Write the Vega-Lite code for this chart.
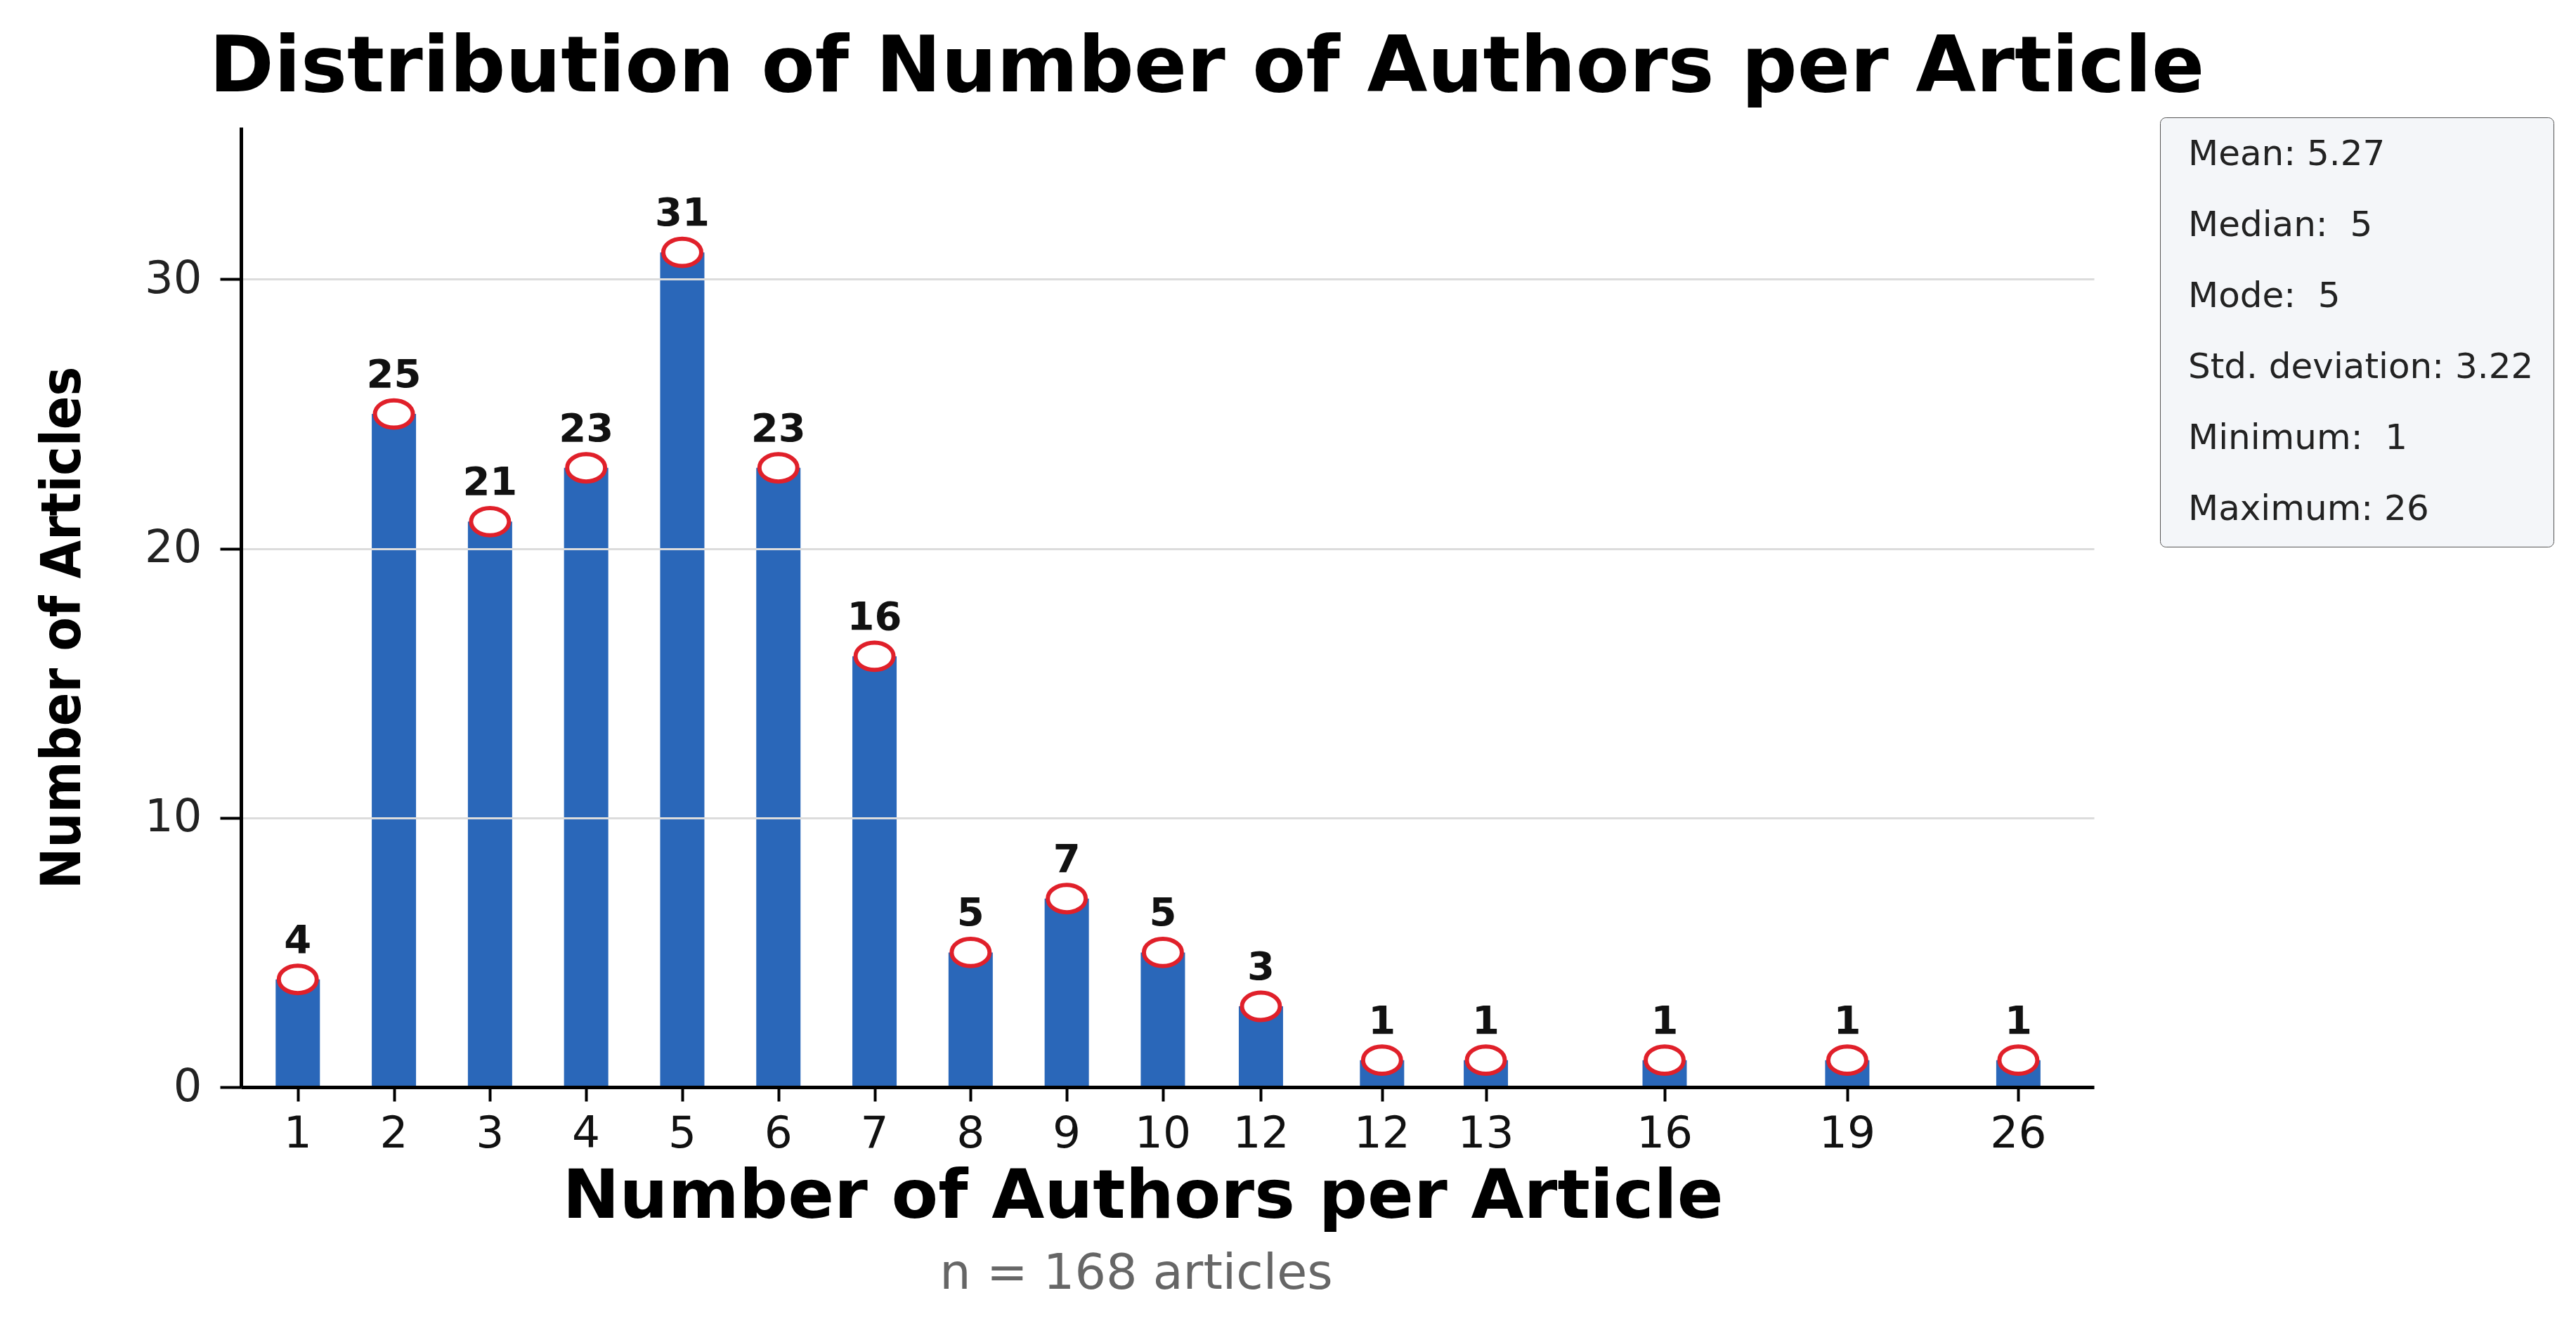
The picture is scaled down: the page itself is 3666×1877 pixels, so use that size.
{
  "$schema": "https://vega.github.io/schema/vega-lite/v6.json",
  "background": "white",
  "autosize": {"type": "pad"},
  "padding": {"left": 51, "top": 41, "right": 60, "bottom": 17},
  "datasets": {
    "counts": [
      {"label": "1", "slot": 1, "articles": 4},
      {"label": "2", "slot": 2, "articles": 25},
      {"label": "3", "slot": 3, "articles": 21},
      {"label": "4", "slot": 4, "articles": 23},
      {"label": "5", "slot": 5, "articles": 31},
      {"label": "6", "slot": 6, "articles": 23},
      {"label": "7", "slot": 7, "articles": 16},
      {"label": "8", "slot": 8, "articles": 5},
      {"label": "9", "slot": 9, "articles": 7},
      {"label": "10", "slot": 10, "articles": 5},
      {"label": "12", "slot": 11.02, "articles": 3},
      {"label": "12", "slot": 12.28, "articles": 1},
      {"label": "13", "slot": 13.36, "articles": 1},
      {"label": "16", "slot": 15.22, "articles": 1},
      {"label": "19", "slot": 17.12, "articles": 1},
      {"label": "26", "slot": 18.9, "articles": 1}
    ],
    "stats": [
      {"stat": "Mean: 5.27"},
      {"stat": "Median: \u00a05"},
      {"stat": "Mode: \u00a05"},
      {"stat": "Std. deviation: 3.22"},
      {"stat": "Minimum: \u00a01"},
      {"stat": "Maximum: 26"}
    ]
  },
  "title": {
    "text": "n = 168 articles",
    "orient": "bottom",
    "anchor": "middle",
    "font": "DejaVu Sans",
    "fontSize": 70,
    "fontWeight": "normal",
    "color": "#666666",
    "offset": 28,
    "dx": -226
  },
  "config": {
    "view": {"stroke": null},
    "font": "DejaVu Sans"
  },
  "vconcat": [
    {
      "width": 2637,
      "height": 1366,
      "title": {
        "text": "Distribution of Number of Authors per Article",
        "anchor": "middle",
        "font": "DejaVu Sans",
        "fontSize": 111,
        "fontWeight": "bold",
        "color": "#000000",
        "offset": 28,
        "dx": 56
      },
      "layer": [
        {
          "data": {"name": "counts"},
          "mark": {"type": "bar", "size": 63, "color": "#2a67b9"},
          "encoding": {
            "x": {
              "field": "slot",
              "type": "quantitative",
              "scale": {"domain": [0.446, 19.65], "nice": false, "zero": false},
              "axis": {
                "values": [1, 2, 3, 4, 5, 6, 7, 8, 9, 10, 11.02, 12.28, 13.36, 15.22, 17.12, 18.9],
                "labels": false,
                "grid": false,
                "domainColor": "#000000",
                "domainWidth": 5,
                "tickColor": "#000000",
                "tickWidth": 4,
                "tickSize": 20,
                "zindex": 1,
                "title": "Number of Authors per Article",
                "titleFont": "DejaVu Sans",
                "titleFontSize": 97,
                "titleFontWeight": "bold",
                "titleColor": "#000000",
                "titlePadding": 86,
                "titleX": 1283
              }
            },
            "y": {
              "field": "articles",
              "type": "quantitative",
              "scale": {"domain": [0, 35.65], "nice": false},
              "axis": {
                "values": [0, 10, 20, 30],
                "grid": true,
                "gridColor": "#dcdcdc",
                "gridWidth": 3,
                "domainColor": "#000000",
                "domainWidth": 5,
                "tickColor": "#000000",
                "tickWidth": 4,
                "tickSize": 30,
                "labelFont": "DejaVu Sans",
                "labelFontSize": 64,
                "labelColor": "#222222",
                "labelPadding": 26,
                "zindex": 1,
                "title": "Number of Articles",
                "titleFont": "Liberation Sans Narrow, DejaVu Sans Condensed, Liberation Sans",
                "titleFontSize": 78,
                "titleFontWeight": "bold",
                "titleColor": "#000000",
                "titlePadding": 76,
                "titleY": 712
              }
            }
          }
        },
        {
          "data": {"name": "counts"},
          "mark": {
            "type": "point",
            "shape": "M-1,0A1,0.72,0,1,1,1,0A1,0.72,0,1,1,-1,0Z",
            "size": 2916,
            "filled": true,
            "fill": "#ffffff",
            "stroke": "#e0202a",
            "strokeWidth": 6,
            "opacity": 1
          },
          "encoding": {
            "x": {"field": "slot", "type": "quantitative"},
            "y": {"field": "articles", "type": "quantitative"}
          }
        },
        {
          "data": {"name": "counts"},
          "mark": {
            "type": "text",
            "font": "DejaVu Sans",
            "fontSize": 56,
            "fontWeight": "bold",
            "color": "#111111",
            "align": "center",
            "baseline": "alphabetic",
            "dy": -38
          },
          "encoding": {
            "x": {"field": "slot", "type": "quantitative"},
            "y": {"field": "articles", "type": "quantitative"},
            "text": {"field": "articles", "type": "quantitative"}
          }
        },
        {
          "data": {"name": "counts"},
          "mark": {
            "type": "text",
            "font": "DejaVu Sans",
            "fontSize": 63,
            "color": "#111111",
            "align": "center",
            "baseline": "alphabetic",
            "dy": 86
          },
          "encoding": {
            "x": {"field": "slot", "type": "quantitative"},
            "y": {"datum": 0, "type": "quantitative"},
            "text": {"field": "label", "type": "nominal"}
          }
        },
        {
          "data": {"name": "stats"},
          "mark": {"type": "point", "opacity": 0},
          "encoding": {
            "color": {
              "field": "stat",
              "type": "nominal",
              "scale": {
                "domain": ["Mean: 5.27", "Median: \u00a05", "Mode: \u00a05", "Std. deviation: 3.22", "Minimum: \u00a01", "Maximum: 26"],
                "range": ["#ffffff", "#ffffff", "#ffffff", "#ffffff", "#ffffff", "#ffffff"]
              },
              "legend": {
                "title": null,
                "orient": "none",
                "legendX": 2731,
                "legendY": -14,
                "fillColor": "#f4f6f9",
                "strokeColor": "#555555",
                "cornerRadius": 8,
                "padding": 28,
                "symbolSize": 0,
                "symbolOpacity": 0,
                "symbolStrokeWidth": 0,
                "labelOffset": -38,
                "labelFont": "DejaVu Sans",
                "labelFontSize": 50,
                "labelColor": "#222222",
                "labelLimit": 0,
                "rowPadding": 51
              }
            }
          }
        }
      ]
    }
  ]
}
